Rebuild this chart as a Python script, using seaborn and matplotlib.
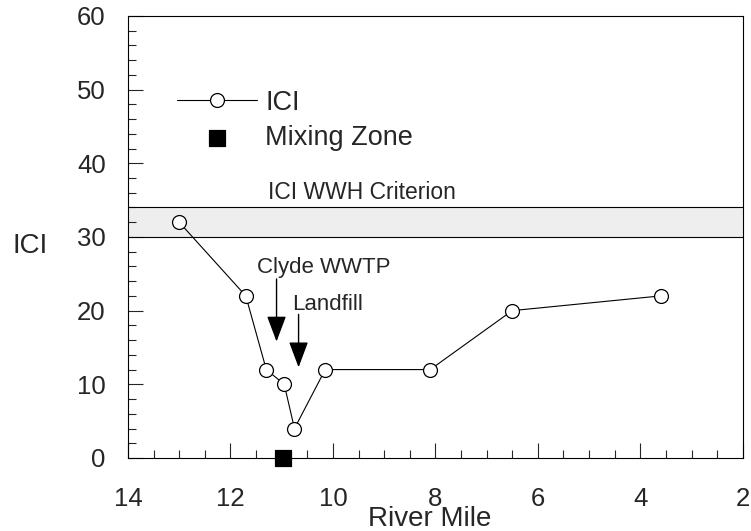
import matplotlib
matplotlib.use("Agg")
import matplotlib.pyplot as plt
from matplotlib.ticker import MultipleLocator
import seaborn as sns

# ICI scores by river mile
river_mile = [13.0, 11.7, 11.3, 10.95, 10.75, 10.15, 8.1, 6.5, 3.6]
ici = [32, 22, 12, 10, 4, 12, 12, 20, 22]

# mixing zone location
mix_mile = [10.97]
mix_val = [0]

# WWH criterion band
crit_low = 30
crit_high = 34

sns.set_style("ticks")
plt.rcParams['font.family'] = ['Liberation Sans', 'DejaVu Sans']

fig = plt.figure(figsize=(7.51, 5.31), dpi=100)
ax = fig.add_axes([0.1704, 0.1375, 0.8186, 0.8325])

ax.axhspan(crit_low, crit_high, facecolor='#eeeeee', edgecolor='none', zorder=0)
ax.axhline(crit_low, color='black', lw=0.8, zorder=1)
ax.axhline(crit_high, color='black', lw=0.8, zorder=1)

sns.lineplot(x=river_mile, y=ici, ax=ax, color='black', lw=0.8, sort=False,
             marker='o', markersize=10, markerfacecolor='white',
             markeredgecolor='black', markeredgewidth=0.9, label='ICI', zorder=3)
sns.scatterplot(x=mix_mile, y=mix_val, ax=ax, marker='s', s=120, color='black',
                edgecolor='black', clip_on=False, label='Mixing Zone', zorder=4)

ax.set_xlim(14, 2)
ax.set_ylim(0, 60)
ax.xaxis.set_major_locator(MultipleLocator(2))
ax.xaxis.set_minor_locator(MultipleLocator(0.5))
ax.yaxis.set_major_locator(MultipleLocator(10))
ax.yaxis.set_minor_locator(MultipleLocator(2))
ax.tick_params(which='major', direction='in', length=11, width=0.8, labelsize=18.5)
ax.tick_params(axis='x', which='major', pad=21)
ax.tick_params(axis='y', which='major', pad=16)
ax.tick_params(which='minor', direction='in', length=6, width=0.8)
for s in ax.spines.values():
    s.set_linewidth(0.8)
    s.set_color('black')

ax.set_xlabel('River Mile', fontsize=20)
ax.xaxis.set_label_coords(0.491, -0.138)
ax.xaxis.label.set_va('center')
ax.set_ylabel('ICI', fontsize=20, rotation=0)
ax.yaxis.set_label_coords(-0.159, 0.48)
ax.yaxis.label.set_va('center')
ax.yaxis.label.set_ha('center')

ax.text(11.26, 35.2, 'ICI WWH Criterion', fontsize=16.5)
ax.text(11.48, 25.1, 'Clyde WWTP', fontsize=16)
ax.text(10.79, 20.1, 'Landfill', fontsize=16)

arrow = dict(arrowstyle='-|>,head_length=1.6,head_width=0.6', color='black',
             lw=1.0, shrinkA=0, shrinkB=0)
ax.annotate('', xy=(11.1, 15.8), xytext=(11.1, 24.3), arrowprops=arrow)
ax.annotate('', xy=(10.67, 12.3), xytext=(10.67, 19.5), arrowprops=arrow)

ax.legend(loc='upper left', bbox_to_anchor=(0.08, 0.833), frameon=False,
          fontsize=19.5, handlelength=2.96, handletextpad=0.3, borderpad=0,
          borderaxespad=0, labelspacing=0.35)

fig.savefig('out.png', dpi=100)
